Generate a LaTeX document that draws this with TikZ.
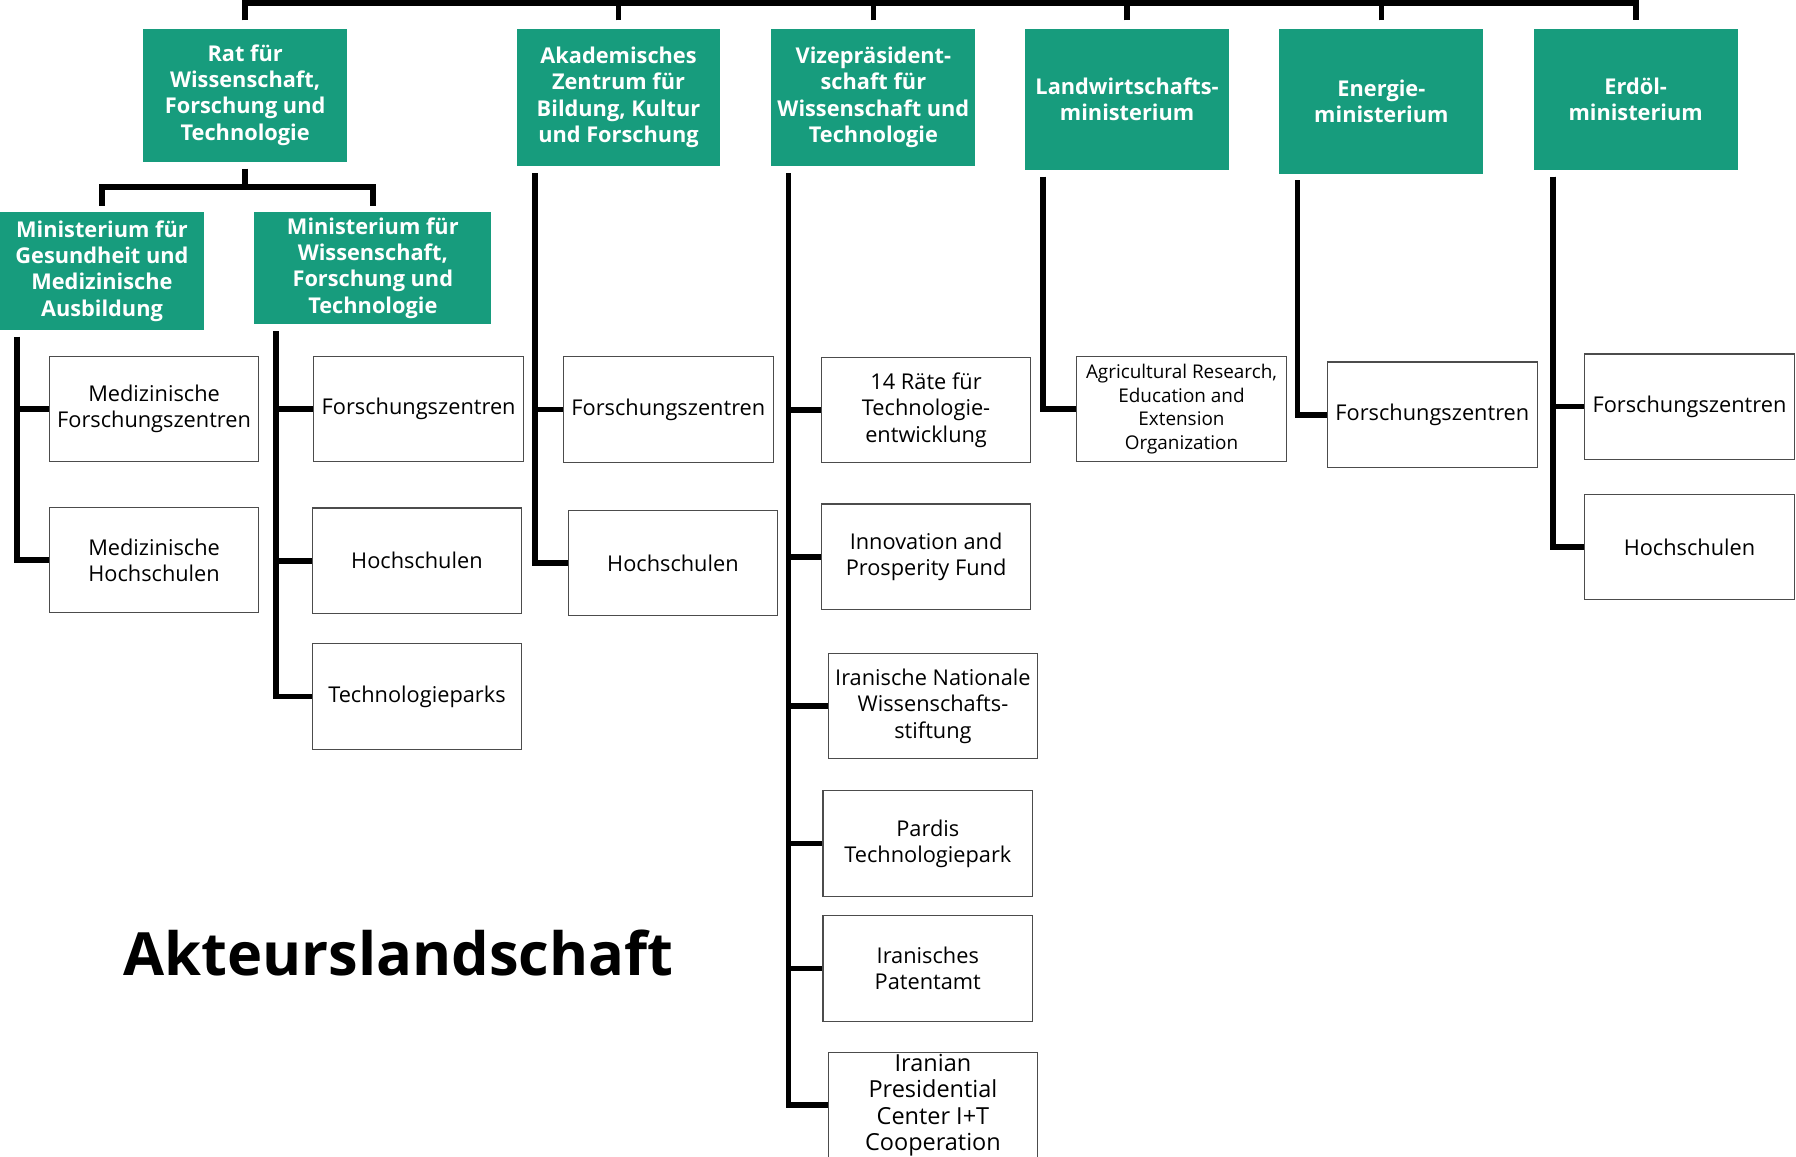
\documentclass[tikz,border=0pt]{standalone}
\usepackage{fontspec}
\setmainfont{Open Sans}
\usepackage{tikz}
\definecolor{fhgreen}{RGB}{23,156,125}
\tikzstyle{head} = [rectangle, inner sep=0pt, align=center, fill=fhgreen, text=white, font=\fontsize{19}{23}\selectfont\bfseries]
\tikzstyle{unit} = [rectangle, inner sep=0pt, minimum width=183pt, minimum height=92pt, align=center, draw=black!70, line width=1pt, fill=white, font=\fontsize{19}{23}\selectfont]
\tikzstyle{conn} = [line width=5pt, black]

\begin{document}
\begin{tikzpicture}[x=1pt,y=-1pt]
\useasboundingbox (0,0) rectangle (1568,1010);

% top row
\node(rat)[head, minimum width=178pt, minimum height=116pt] at (214,83) {Rat für\\Wissenschaft,\\Forschung und\\Technologie};
\node(akad)[head, minimum width=178pt, minimum height=120pt] at (540,85) {Akademisches\\Zentrum für\\Bildung, Kultur\\und Forschung};
\node(vize)[head, minimum width=178pt, minimum height=120pt] at (762.5,85) {Vizepräsident-\\schaft für\\Wissenschaft und\\Technologie};
\node(landw)[head, minimum width=178pt, minimum height=123pt] at (984,86.5) {Landwirtschafts-\\ministerium};
\node(energie)[head, minimum width=178pt, minimum height=127pt] at (1206,88.5) {Energie-\\ministerium};
\node(erdoel)[head, minimum width=178pt, minimum height=123pt] at (1428,86.5) {Erdöl-\\ministerium};

% ministries below the council
\node(mgesund)[head, minimum width=178pt, minimum height=103pt] at (89,236.5) {Ministerium für\\Gesundheit und\\Medizinische\\Ausbildung};
\node(mwiss)[head, minimum width=207pt, minimum height=98pt] at (325.5,234) {Ministerium für\\Wissenschaft,\\Forschung und\\Technologie};

% units
\node(medfz)[unit] at (134.5,357) {Medizinische\\Forschungszentren};
\node(medhs)[unit] at (134.5,489) {Medizinische\\Hochschulen};
\node(wfz)[unit] at (365.5,357) {Forschungszentren};
\node(whs)[unit] at (364,489.5) {Hochschulen};
\node(wtp)[unit] at (364,608) {Technologieparks};
\node(afz)[unit] at (583.5,357.5) {Forschungszentren};
\node(ahs)[unit] at (587.5,491.5) {Hochschulen};
\node(raete)[unit] at (808.5,358) {14 Räte für\\Technologie-\\entwicklung};
\node(inno)[unit] at (808.5,486) {Innovation and\\Prosperity Fund};
\node(insf)[unit] at (814.5,616.5) {Iranische Nationale\\Wissenschafts-\\stiftung};
\node(pardis)[unit] at (810,736.5) {Pardis\\Technologiepark};
\node(patent)[unit] at (810,845.5) {Iranisches\\Patentamt};
\node(ipc)[unit, font=\fontsize{20.5}{23}\selectfont] at (814.5,965) {Iranian\\Presidential\\Center I+T\\Cooperation};
\node(agri)[unit, font=\fontsize{16.5}{20.5}\selectfont] at (1031.5,357) {Agricultural Research,\\Education and\\Extension\\Organization};
\node(efz)[unit] at (1250.5,362) {Forschungszentren};
\node(ofz)[unit] at (1475,355) {Forschungszentren};
\node(ohs)[unit] at (1475,477.5) {Hochschulen};

\node(title)[font=\fontsize{52}{60}\selectfont\bfseries] at (348,832) {Akteurslandschaft};

% top bar
\draw[conn]([yshift=7pt]rat.north)--([yshift=22pt]rat.north)--([yshift=22pt]erdoel.north)--([yshift=7pt]erdoel.north);
\draw[conn]([yshift=7pt]akad.north)--([yshift=22pt]akad.north);
\draw[conn]([yshift=7pt]vize.north)--([yshift=22pt]vize.north);
\draw[conn]([yshift=7pt]landw.north)--([yshift=22pt]landw.north);
\draw[conn]([yshift=7pt]energie.north)--([yshift=22pt]energie.north);

% council fork
\coordinate(ratfork) at ([yshift=-22pt]rat.south);
\draw[conn]([yshift=-6pt]rat.south)--(ratfork);
\draw[conn]([yshift=5pt]mgesund.north)|-(ratfork)-|([yshift=5pt]mwiss.north);

% spines
\coordinate(mgesundtop) at ([xshift=15pt,yshift=-6pt]mgesund.south west);
\coordinate(mwisstop) at ([xshift=19pt,yshift=-6pt]mwiss.south west);
\coordinate(akadtop) at ([xshift=16pt,yshift=-6pt]akad.south west);
\coordinate(vizetop) at ([xshift=15pt,yshift=-6pt]vize.south west);
\coordinate(landwtop) at ([xshift=16pt,yshift=-6pt]landw.south west);
\coordinate(energietop) at ([xshift=16pt,yshift=-5pt]energie.south west);
\coordinate(erdoeltop) at ([xshift=17pt,yshift=-6pt]erdoel.south west);

\draw[conn](mgesundtop)|-(medfz.west);
\draw[conn](mgesundtop)|-(medhs.west);
\draw[conn](mwisstop)|-(wfz.west);
\draw[conn](mwisstop)|-(whs.west);
\draw[conn](mwisstop)|-(wtp.west);
\draw[conn](akadtop)|-(afz.west);
\draw[conn](akadtop)|-(ahs.west);
\draw[conn](vizetop)|-(raete.west);
\draw[conn](vizetop)|-(inno.west);
\draw[conn](vizetop)|-(insf.west);
\draw[conn](vizetop)|-(pardis.west);
\draw[conn](vizetop)|-(patent.west);
\draw[conn](vizetop)|-(ipc.west);
\draw[conn](landwtop)|-(agri.west);
\draw[conn](energietop)|-(efz.west);
\draw[conn](erdoeltop)|-(ofz.west);
\draw[conn](erdoeltop)|-(ohs.west);
\end{tikzpicture}
\end{document}
